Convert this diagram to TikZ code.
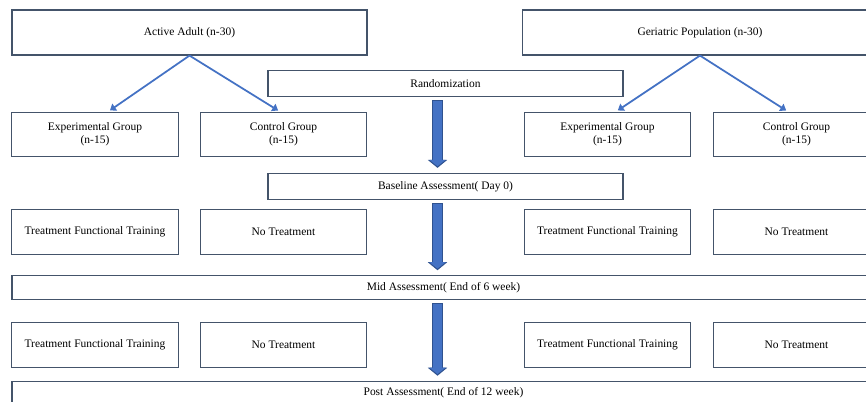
\documentclass[tikz,border=0pt]{standalone}
\usepackage{fontspec}
\setmainfont{Liberation Serif}
\usetikzlibrary{arrows.meta}
\definecolor{boxline}{HTML}{44546A}
\definecolor{blockblue}{HTML}{4472C4}
\definecolor{blockedge}{HTML}{2F528F}

\begin{document}
\begin{tikzpicture}[x=0.03cm, y=-0.03cm,
    box/.style={rectangle, draw=boxline, line width=1pt, inner sep=1pt, align=center, font=\fontsize{9.8}{11.3}\selectfont},
    bigbox/.style={box, minimum width=10.65cm, minimum height=1.35cm},
    stagebox/.style={box, minimum width=10.65cm, minimum height=0.78cm},
    groupbox/.style={box, minimum width=5cm, minimum height=1.33cm},
    fullbox/.style={box, minimum width=25.89cm, minimum height=0.7cm},
    thinarrow/.style={-{Triangle[width=7pt,length=5pt]}, blockblue, line width=1.5pt, shorten >=2pt},
    outerarrow/.style={-{Triangle[width=0.57cm,length=0.24cm]}, blockedge, line width=0.34cm, shorten <=0.1cm, shorten >=0.15cm},
    innerarrow/.style={-{Triangle[width=0.47cm,length=0.19cm]}, blockblue, line width=0.28cm, shorten <=0.13cm, shorten >=0.2cm}
]
    \useasboundingbox (0,0) rectangle (866,402);
    \clip (0,0) rectangle (866,402);

    \node[bigbox] (adult) at (189.5,32.5) {Active Adult (n-30)};
    \node[bigbox] (geri) at (700,32.5) {Geriatric Population (n-30)};
    \node[stagebox] (rand) at (445.5,83.5) {Randomization};

    \node[groupbox] (expA) at (95,134.5) {Experimental Group\\(n-15)};
    \node[groupbox] (ctrlA) at (283.5,134.5) {Control Group\\(n-15)};
    \node[groupbox] (expG) at (607.5,134.5) {Experimental Group\\(n-15)};
    \node[groupbox] (ctrlG) at (796.5,134.5) {Control Group\\(n-15)};

    \node[stagebox] (base) at (445.5,186.5) {Baseline Assessment( Day 0)};

    \node[groupbox] (trainA1) at (95,232) {Treatment Functional Training};
    \node[groupbox] (noneA1) at (283.5,232) {No Treatment};
    \node[groupbox] (trainG1) at (607.5,232) {Treatment Functional Training};
    \node[groupbox] (noneG1) at (796.5,232) {No Treatment};

    \node[fullbox] (mid) at (443.5,287.5) {Mid Assessment( End of 6 week)};

    \node[groupbox] (trainA2) at (95,345) {Treatment Functional Training};
    \node[groupbox] (noneA2) at (283.5,345) {No Treatment};
    \node[groupbox] (trainG2) at (607.5,345) {Treatment Functional Training};
    \node[groupbox] (noneG2) at (796.5,345) {No Treatment};

    \node[fullbox] (post) at (443.5,393) {Post Assessment( End of 12 week)};

    % split into groups
    \draw[thinarrow] (adult.south) -- ([xshift=0.39cm]expA.north);
    \draw[thinarrow] (adult.south) -- ([xshift=-0.1cm]ctrlA.north);
    \draw[thinarrow] (geri.south) -- ([xshift=0.25cm]expG.north);
    \draw[thinarrow] (geri.south) -- ([xshift=-0.25cm]ctrlG.north);

    % timeline
    \coordinate (spine) at (437.5,0);
    \foreach \a/\b in {rand/base, base/mid, mid/post} {
        \draw[outerarrow] (\a.south -| spine) -- (\b.north -| spine);
        \draw[innerarrow] (\a.south -| spine) -- (\b.north -| spine);
    }
\end{tikzpicture}
\end{document}
